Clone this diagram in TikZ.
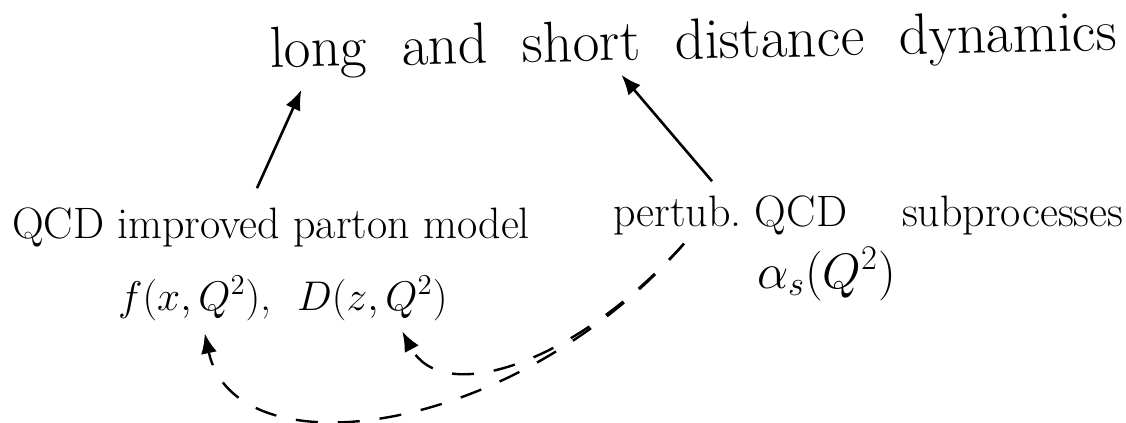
\documentclass[tikz,border=0pt]{standalone}
\usetikzlibrary{arrows.meta}
\begin{document}
\begin{tikzpicture}[>={Latex[length=10pt,width=8pt]},x=0.5pt,y=-0.5pt,
  words/.style={anchor=base west,font=\fontsize{22}{26}\selectfont},
  formula/.style={anchor=base west,font=\fontsize{22}{26}\selectfont},
  link/.style={line width=1.3pt,->},
  hint/.style={line width=1.2pt,->,dash pattern=on 11pt off 10pt}]
  \useasboundingbox (0,0) rectangle (1126,423);
  % top line
  \node (title) at (263,68) [words,rotate=1.2,font=\fontsize{29}{34}\selectfont]{long\hspace{0.6em}and\hspace{0.6em}short\hspace{0.6em}distance\hspace{0.6em}dynamics};
  % left side
  \node (parton) at (5,238) [words]{QCD improved parton model};
  \node (fx) at (111,310) [formula]{$f(x,Q^2)$,};
  \node (Dz) at (290,310) [formula]{$D(z,Q^2)$};
  % right side
  \node (pert) at (606,226) [words]{pertub.\ QCD\hspace{1.25em}subprocesses};
  \node (alphas) at (750,288) [formula,font=\fontsize{25}{30}\selectfont]{$\alpha_s(Q^2)$};
  % arrows up
  \draw[link]([xshift=-7pt,yshift=6pt]parton.north)--([xshift=19pt,yshift=-1.5pt]title.south west);
  \draw[link]([xshift=53pt,yshift=3.5pt]pert.north west)--([xshift=179pt,yshift=6pt]title.south west);
  % dashed feedback
  \draw[hint]([xshift=39pt,yshift=-1pt]pert.south west) .. controls +(-110,122) and +(40,75) .. ([xshift=15pt,yshift=-2pt]Dz.south);
  \draw[hint]([xshift=39pt,yshift=-1pt]pert.south west) .. controls +(-170,195) and +(30,140) .. ([xshift=5pt,yshift=-3pt]fx.south);
\end{tikzpicture}
\end{document}
